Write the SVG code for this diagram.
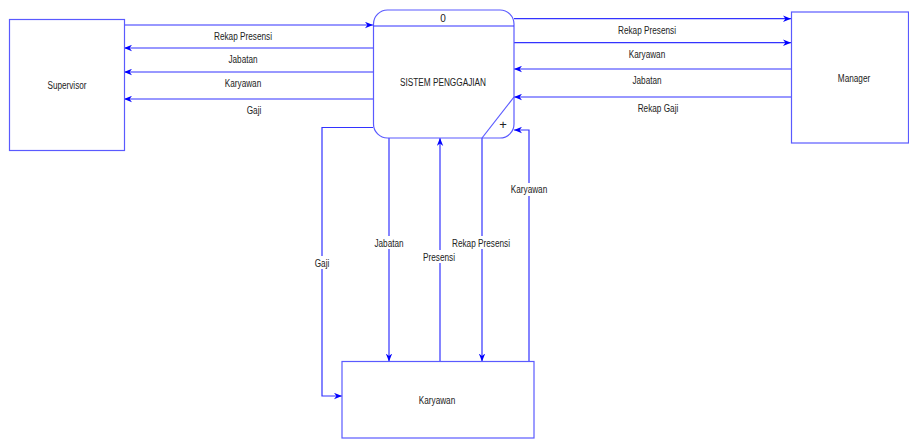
<svg xmlns="http://www.w3.org/2000/svg" width="909" height="439" viewBox="0 0 909 439">
<style>
.box{fill:#fff;stroke:#5a5aff;stroke-width:1.2}
.ln{fill:none;stroke:#3333ff;stroke-width:1.2}
.t{font-family:"Liberation Sans",Arial,sans-serif;font-size:10px;fill:#222;text-anchor:middle}
.bg{fill:#fff}
</style>
<defs>
<marker id="ar" viewBox="0 0 10 8" refX="10" refY="4" markerWidth="8" markerHeight="7" markerUnits="userSpaceOnUse" orient="auto">
<path d="M0,0 L10,4 L0,8 L3,4 Z" fill="#0000ff"/>
</marker>
</defs>
<g id="connectors">
<line class="ln" x1="124" y1="25" x2="373" y2="25" marker-end="url(#ar)"/>
<line class="ln" x1="373" y1="48" x2="124" y2="48" marker-end="url(#ar)"/>
<line class="ln" x1="373" y1="72" x2="124" y2="72" marker-end="url(#ar)"/>
<line class="ln" x1="373" y1="99" x2="124" y2="99" marker-end="url(#ar)"/>
<line class="ln" x1="514" y1="18.7" x2="791" y2="18.7" marker-end="url(#ar)"/>
<line class="ln" x1="514" y1="42.7" x2="791" y2="42.7" marker-end="url(#ar)"/>
<line class="ln" x1="791" y1="69" x2="514" y2="69" marker-end="url(#ar)"/>
<line class="ln" x1="791" y1="97" x2="514" y2="97" marker-end="url(#ar)"/>
<polyline class="ln" points="373,127.5 322,127.5 322,396 342,396" marker-end="url(#ar)"/>
<line class="ln" x1="389" y1="138" x2="389" y2="361.5" marker-end="url(#ar)"/>
<line class="ln" x1="440" y1="361.5" x2="440" y2="138" marker-end="url(#ar)"/>
<line class="ln" x1="482" y1="138" x2="482" y2="361.5" marker-end="url(#ar)"/>
<polyline class="ln" points="529,361.5 529,130 514,130" marker-end="url(#ar)"/>
<g id="labels">
<text class="t" x="243" y="40" textLength="58" lengthAdjust="spacingAndGlyphs">Rekap Presensi</text>
<text class="t" x="243" y="63" textLength="29" lengthAdjust="spacingAndGlyphs">Jabatan</text>
<text class="t" x="243" y="87" textLength="36.5" lengthAdjust="spacingAndGlyphs">Karyawan</text>
<text class="t" x="254" y="114" textLength="14.6" lengthAdjust="spacingAndGlyphs">Gaji</text>
<text class="t" x="647" y="34" textLength="58" lengthAdjust="spacingAndGlyphs">Rekap Presensi</text>
<text class="t" x="647" y="58" textLength="36.5" lengthAdjust="spacingAndGlyphs">Karyawan</text>
<text class="t" x="647" y="84" textLength="29" lengthAdjust="spacingAndGlyphs">Jabatan</text>
<text class="t" x="658" y="112" textLength="40.6" lengthAdjust="spacingAndGlyphs">Rekap Gaji</text>
<rect class="bg" x="314" y="256" width="16" height="13"/>
<text class="t" x="322" y="267" textLength="14.6" lengthAdjust="spacingAndGlyphs">Gaji</text>
<rect class="bg" x="374" y="236" width="30" height="13"/>
<text class="t" x="389" y="247" textLength="29" lengthAdjust="spacingAndGlyphs">Jabatan</text>
<rect class="bg" x="423" y="250" width="33" height="13"/>
<text class="t" x="439" y="261" textLength="32" lengthAdjust="spacingAndGlyphs">Presensi</text>
<rect class="bg" x="452" y="236" width="58" height="13"/>
<text class="t" x="481" y="247" textLength="58" lengthAdjust="spacingAndGlyphs">Rekap Presensi</text>
<rect class="bg" x="510" y="183" width="38" height="13"/>
<text class="t" x="529" y="193" textLength="36.5" lengthAdjust="spacingAndGlyphs">Karyawan</text>
</g>
</g>
<g id="supervisor">
<rect class="box" x="9.5" y="19.5" width="115" height="131"/>
<text class="t" x="67" y="89" textLength="39" lengthAdjust="spacingAndGlyphs">Supervisor</text>
</g>
<g id="manager">
<rect class="box" x="791.5" y="12" width="117" height="131"/>
<text class="t" x="854" y="82" textLength="32.4" lengthAdjust="spacingAndGlyphs">Manager</text>
</g>
<g id="karyawan">
<rect class="box" x="342" y="361.5" width="192" height="76.5"/>
<text class="t" x="437" y="404" textLength="36.5" lengthAdjust="spacingAndGlyphs">Karyawan</text>
</g>
<g id="process">
<rect class="box" x="373.5" y="10" width="140.5" height="128" rx="14" ry="14"/>
<line class="ln" x1="373.5" y1="26" x2="514" y2="26"/>
<line class="box" x1="514" y1="97" x2="482" y2="138"/>
<text class="t" x="443" y="22">0</text>
<text class="t" x="443" y="86" textLength="86" lengthAdjust="spacingAndGlyphs">SISTEM PENGGAJIAN</text>
<text class="t" x="503" y="129" style="font-size:13px;font-weight:300">+</text>
</g>
</svg>
